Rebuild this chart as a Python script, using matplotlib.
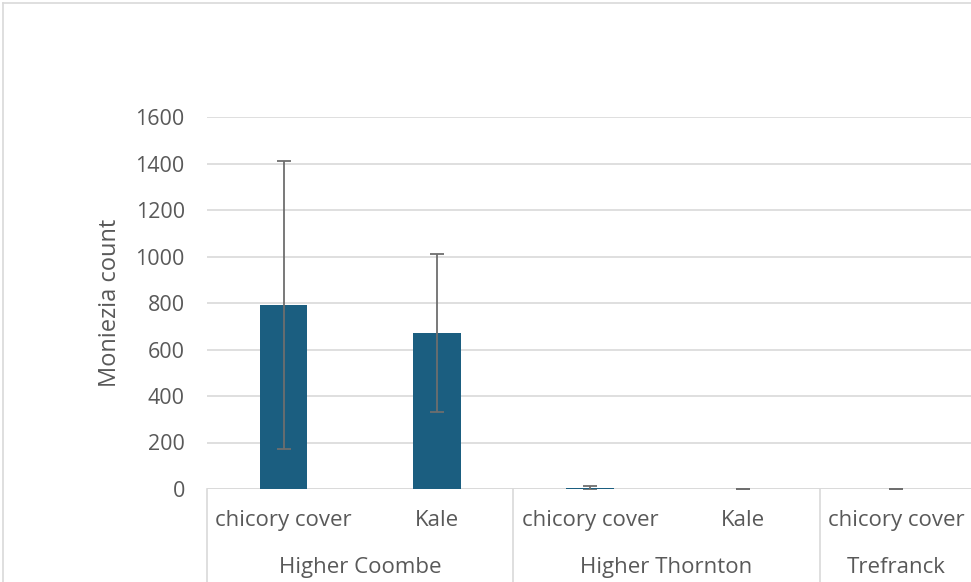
import matplotlib.pyplot as plt
import numpy as np
from matplotlib.transforms import blended_transform_factory

plt.rcParams['font.family'] = ['Open Sans', 'DejaVu Sans']

groups = ['Higher Coombe', 'Higher Thornton', 'Trefranck']
group_sizes = [2, 2, 1]
treatments = ['chicory cover', 'Kale', 'chicory cover', 'Kale', 'chicory cover']
means = [790, 670, 5, 1, 1]
errors = [620, 340, 8, 1, 1]

bar_color = '#1b5e80'
text_color = '#595959'
grid_color = '#d9d9d9'

fig = plt.figure(figsize=(9.71, 5.82), dpi=100)
ax = fig.add_axes([207 / 971, 93 / 582, 766 / 971, 372 / 582])

x = np.arange(len(treatments))
ax.bar(x, means, width=0.31, color=bar_color, zorder=3)
ax.errorbar(x, means, yerr=errors, fmt='none', ecolor='#6e6e6e',
            elinewidth=1.3, capsize=5, capthick=1.3, zorder=4)

ax.set_xlim(-0.5, len(treatments) - 0.5)
ax.set_ylim(0, 1600)
ax.set_yticks(np.arange(0, 1601, 200))
ax.yaxis.grid(True, color=grid_color, linewidth=1.2, zorder=0)
for s in ax.spines.values():
    s.set_visible(False)
ax.axhline(0, color=grid_color, linewidth=1.2, zorder=1)
ax.tick_params(axis='y', length=0, pad=16, labelsize=15.5, labelcolor=text_color)
ax.tick_params(axis='x', length=0, labelbottom=False)
ax.set_ylabel('Moniezia count', fontsize=17, color=text_color, labelpad=10)

# multi-level category axis
trans = blended_transform_factory(ax.transData, ax.transAxes)
for xi, t in zip(x, treatments):
    ax.text(xi, -0.086, t, transform=trans, ha='center', va='center',
            fontsize=16, color=text_color)
start = 0
bounds = [-0.5]
for g, n in zip(groups, group_sizes):
    center = start + (n - 1) / 2
    ax.text(center, -0.21, g, transform=trans, ha='center', va='center',
            fontsize=16, color=text_color)
    start += n
    bounds.append(start - 0.5)
for b in bounds:
    ax.plot([b, b], [0, -0.3], transform=trans, color=grid_color,
            linewidth=1.2, clip_on=False)

# outer chart border
fig.add_artist(plt.Line2D([3 / 971, 3 / 971], [0, 1 - 3 / 582],
                          color=grid_color, linewidth=1.2))
fig.add_artist(plt.Line2D([3 / 971, 1], [1 - 3 / 582, 1 - 3 / 582],
                          color=grid_color, linewidth=1.2))

fig.savefig('out.png', dpi=100)
